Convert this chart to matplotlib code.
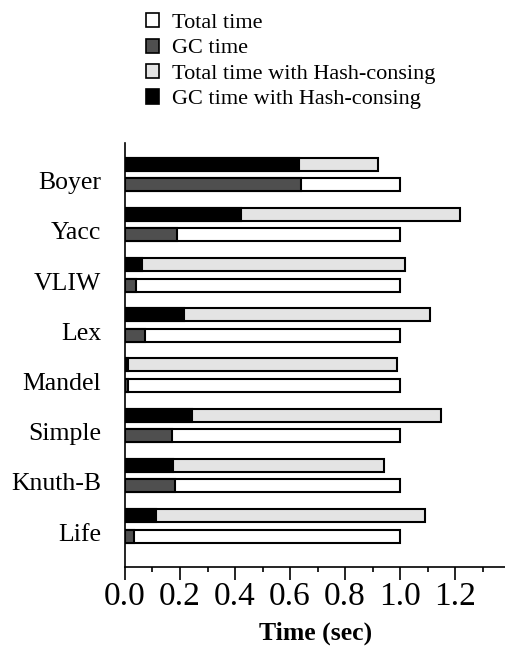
import numpy as np
import matplotlib.pyplot as plt
from matplotlib.patches import Patch
from matplotlib.ticker import MultipleLocator

plt.rcParams['font.family'] = ['Liberation Serif', 'DejaVu Serif']

programs = ['Boyer', 'Yacc', 'VLIW', 'Lex', 'Mandel', 'Simple', 'Knuth-B', 'Life']
total_time = [1.0, 1.0, 1.0, 1.0, 1.0, 1.0, 1.0, 1.0]
gc_time = [0.64, 0.19, 0.041, 0.073, 0.012, 0.172, 0.182, 0.033]
total_hc = [0.919, 1.218, 1.019, 1.109, 0.989, 1.149, 0.94, 1.089]
gc_hc = [0.633, 0.423, 0.063, 0.213, 0.01, 0.244, 0.175, 0.113]

col_total = 'white'
col_gc = '#4f4f4f'
col_total_hc = '#e4e4e4'
col_gc_hc = 'black'

fig = plt.figure(figsize=(5.06, 6.54), dpi=100)
ax = fig.add_axes([0.247, 0.1335, 0.753, 0.6478])

n = len(programs)
ypos = np.arange(n)[::-1]
bar_h = 0.26
off = 0.41
lw = 1.5

ax.barh(ypos, total_time, bar_h, color=col_total, edgecolor='black', linewidth=lw)
ax.barh(ypos, gc_time, bar_h, color=col_gc, edgecolor='black', linewidth=lw)
ax.barh(ypos + off, total_hc, bar_h, color=col_total_hc, edgecolor='black', linewidth=lw)
ax.barh(ypos + off, gc_hc, bar_h, color=col_gc_hc, edgecolor='black', linewidth=lw)

ax.set_xlim(0, 1.385)
ax.set_ylim(-0.61, n - 1 + 0.83)

ax.spines['top'].set_visible(False)
ax.spines['right'].set_visible(False)
for s in ['left', 'bottom']:
    ax.spines[s].set_linewidth(1.2)

ax.xaxis.set_minor_locator(MultipleLocator(0.1))
ax.set_xticks(np.arange(0, 1.21, 0.2))
ax.set_xticklabels(['%.1f' % v for v in np.arange(0, 1.21, 0.2)], fontsize=24)
ax.tick_params(axis='x', which='major', length=9.5, width=1.2, direction='out', pad=1.5)
ax.tick_params(axis='x', which='minor', length=3.6, width=1.2, direction='out')

ax.set_yticks(ypos + 0.08)
ax.set_yticklabels(programs, fontsize=18.5)
ax.tick_params(axis='y', length=0, pad=17)

ax.set_xlabel('Time (sec)', fontsize=18.5, fontweight='bold', labelpad=6.5)

handles = [
    Patch(facecolor=col_total, edgecolor='black', linewidth=1.2, label='Total time'),
    Patch(facecolor=col_gc, edgecolor='black', linewidth=1.2, label='GC time'),
    Patch(facecolor=col_total_hc, edgecolor='black', linewidth=1.2, label='Total time with Hash-consing'),
    Patch(facecolor=col_gc_hc, edgecolor='black', linewidth=1.2, label='GC time with Hash-consing'),
]
fig.legend(handles=handles, loc='upper left', bbox_to_anchor=(0.2885, 0.980),
           frameon=False, fontsize=16, handlelength=0.6, handleheight=0.6,
           handletextpad=0.55, labelspacing=0.25, borderpad=0, borderaxespad=0)

fig.savefig('out.png', dpi=100)
